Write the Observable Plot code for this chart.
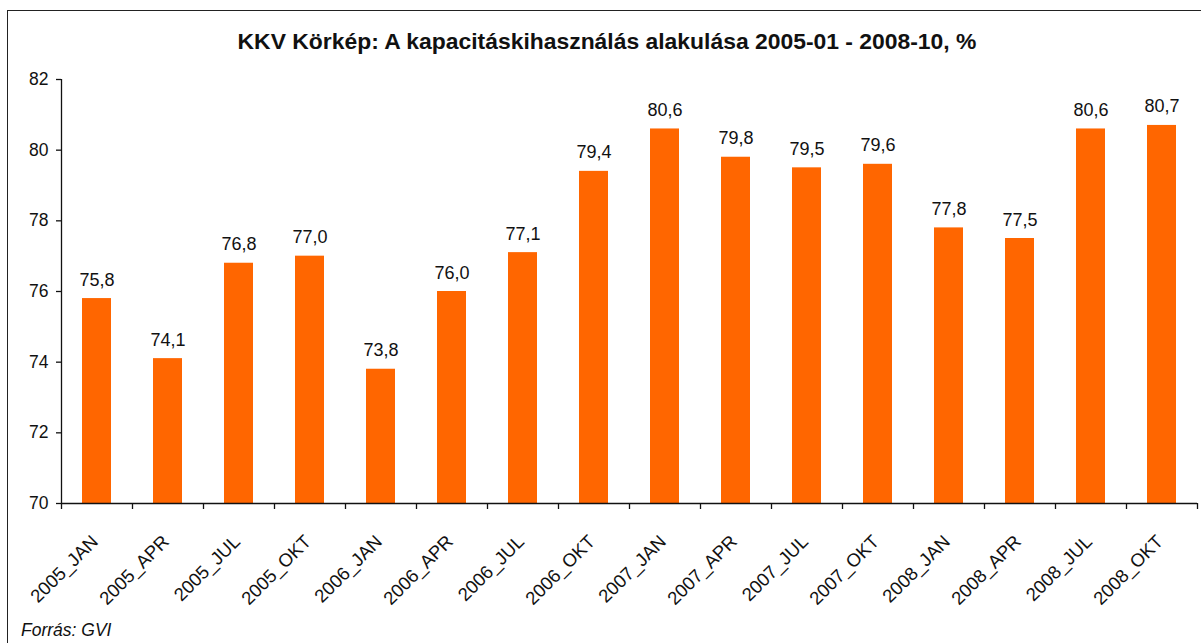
<!DOCTYPE html>
<html>
<head>
<meta charset="utf-8">
<script src="https://cdn.jsdelivr.net/npm/d3@7"></script>
<script src="https://cdn.jsdelivr.net/npm/@observablehq/plot@0.6"></script>
<style>
  html, body { margin: 0; padding: 0; background: #fff; overflow: hidden; width: 1201px; height: 643px; }
  #wrap { position: relative; width: 1201px; height: 643px; overflow: hidden; }
  #border { position: absolute; left: 7px; top: 10px; width: 1300px; height: 700px; border: 1.5px solid #222; box-sizing: border-box; }
  #chart { position: absolute; left: 0; top: 0; }
  #title { position: absolute; left: 0; top: 30px; width: 1214px; text-align: center; font-family: "Liberation Sans Narrow", "Arial Narrow", "Liberation Sans", Arial, sans-serif; font-weight: bold; font-size: 22.9px; line-height: 1; color: #111; }
  #caption { position: absolute; left: 21px; top: 622px; font-family: "Liberation Sans", Arial, sans-serif; font-style: italic; font-size: 17.5px; line-height: 1; color: #111; }
</style>
</head>
<body>
<div id="wrap">
  <div id="border"></div>
  <div id="chart"></div>
  <div id="title">KKV Körkép: A kapacitáskihasználás alakulása 2005-01 - 2008-10, %</div>
  <div id="caption">Forrás: GVI</div>
</div>
<script>
const categories = ["2005_JAN","2005_APR","2005_JUL","2005_OKT","2006_JAN","2006_APR","2006_JUL","2006_OKT","2007_JAN","2007_APR","2007_JUL","2007_OKT","2008_JAN","2008_APR","2008_JUL","2008_OKT"];
const values = [75.8, 74.1, 76.8, 77.0, 73.8, 76.0, 77.1, 79.4, 80.6, 79.8, 79.5, 79.6, 77.8, 77.5, 80.6, 80.7];
const yTicks = [70, 72, 74, 76, 78, 80, 82];

const data = categories.map((c, i) => ({cat: c, value: values[i], label: values[i].toFixed(1).replace(".", ",")}));

const W = 1201, H = 643, ML = 61, MR = 4, MT = 79, MB = 140;
const step = (W - ML - MR) / categories.length;
const y0 = yTicks[0], y1 = yTicks[yTicks.length - 1];
const axisColor = "#111";

const chart = Plot.plot({
  width: W,
  height: H,
  marginLeft: ML,
  marginRight: MR,
  marginTop: MT,
  marginBottom: MB,
  style: {background: "transparent", fontFamily: "'Liberation Sans', Arial, sans-serif", fontSize: "17px", color: "#111"},
  x: {domain: categories, paddingInner: 0.59, paddingOuter: 0.295, axis: null},
  y: {domain: [y0, y1], axis: null},
  marks: [
    Plot.barY(data, {x: "cat", y1: y0, y2: "value", fill: "#FF6600"}),
    Plot.text(data, {x: "cat", y: "value", text: "label", lineAnchor: "bottom", dy: -13, fontSize: 18, fill: "#111"}),
    Plot.ruleY([y0], {stroke: axisColor, strokeWidth: 1.3}),
    Plot.ruleX([categories[0]], {y1: y1, y2: y0, dx: -step / 2, insetBottom: -6, stroke: axisColor, strokeWidth: 1.3}),
    Plot.ruleX(categories.slice(1), {y1: y0, y2: y0, dx: -step / 2, insetBottom: -6, stroke: axisColor, strokeWidth: 1.3}),
    Plot.ruleX([categories[categories.length - 1]], {y1: y0, y2: y0, dx: step / 2, insetBottom: -6, stroke: axisColor, strokeWidth: 1.3}),
    Plot.axisY({ticks: yTicks, tickSize: 5, text: null, label: null, stroke: axisColor, strokeWidth: 1.3}),
    Plot.text(yTicks, {y: d => d, frameAnchor: "left", textAnchor: "end", lineAnchor: "middle", dx: -13, fontSize: 17.5, fill: "#111", text: d => String(d)}),
    Plot.text(categories, {x: d => d, frameAnchor: "bottom", rotate: -45, textAnchor: "end", lineAnchor: "middle", dx: -2, dy: 35, fontSize: 18.5, fill: "#111", text: d => d})
  ]
});
document.getElementById("chart").appendChild(chart);
</script>
</body>
</html>
